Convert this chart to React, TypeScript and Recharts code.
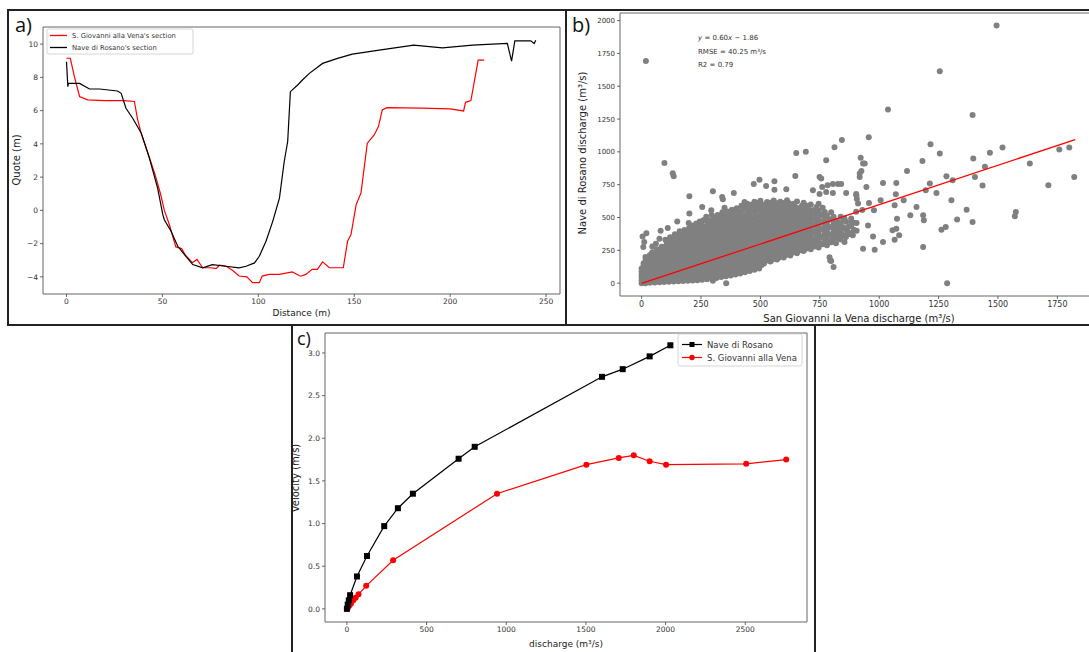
import { ComposedChart, LineChart, Line, Scatter, XAxis, YAxis, ReferenceArea } from 'recharts';

const FONT = '"DejaVu Sans", sans-serif';

// a) cross sections, [distance (m), quote (m)]
const giovanniSection: [number, number][] = [
  [0, 9.15], [2, 9.15], [4, 8.1], [6.8, 6.85], [11, 6.65], [20, 6.6], [30, 6.6], [35.4, 6.55],
  [37, 5.5], [39, 4.6], [42, 3.6], [46, 2.2], [49, 1.0], [51, 0.0], [53.6, -0.85], [57, -2.2],
  [60, -2.3], [62, -2.7], [65.6, -3.15], [68, -2.95], [71, -3.45], [75, -3.45], [78, -3.5],
  [79.7, -3.3], [83, -3.35], [86.5, -3.6], [90, -3.95], [94, -4.0], [97, -4.35], [100.5, -4.35],
  [102, -3.95], [105.7, -3.85], [111, -3.85], [117.7, -3.7], [122, -3.96], [124.8, -3.85],
  [128, -3.55], [130.8, -3.55], [133.5, -3.1], [137, -3.45], [144.3, -3.45], [146.5, -1.86],
  [148.3, -1.45], [151, 0.35], [153.5, 1.04], [156.8, 4.04], [160.4, 4.54], [162.6, 5.04],
  [164.6, 6.04], [167, 6.18], [185, 6.15], [200, 6.1], [207, 5.98], [208, 6.5], [210.8, 6.6],
  [214.6, 9.04], [217.7, 9.04],
];
const rosanoSection: [number, number][] = [
  [0, 8.94], [0.7, 7.44], [1, 7.64], [6.8, 7.64], [12, 7.3], [17.2, 7.3], [26.6, 7.18], [28.5, 7.04],
  [31, 6.14], [34.5, 5.54], [39, 4.64], [43.2, 3.14], [47.5, 1.34], [50.2, -0.26], [51, -0.56],
  [54.5, -1.26], [58, -2.16], [61.5, -2.66], [65.8, -3.26], [71, -3.46], [76, -3.26], [83, -3.36],
  [90, -3.46], [93.6, -3.36], [98, -3.16], [100.5, -2.76], [104, -1.86], [107.5, -0.66], [111, 0.74],
  [113.5, 2.94], [115.3, 4.14], [116.7, 7.14], [120.5, 7.54], [123, 7.84], [126.6, 8.24],
  [133.5, 8.84], [141.3, 9.14], [149, 9.4], [163, 9.64], [181, 9.94], [196, 9.78], [211.6, 9.94],
  [229.8, 10.04], [232, 8.98], [233.7, 10.2], [242, 10.2], [243.8, 10.04], [244.6, 10.24],
];
const sectionTicksX = [0, 50, 100, 150, 200, 250];
const sectionTicksY = [-4, -2, 0, 2, 4, 6, 8, 10];

// b) discharge pairs, San Giovanni (x) vs Nave di Rosano (y), m3/s
// the dense cloud, read column by column
const cloudColumns: [number, number[]][] = [
  [0, [0, 20, 42, 64, 88, 112]],
  [8, [10, 32, 54, 76, 100, 126, 150]],
  [16, [0, 22, 44, 66, 90, 114, 140, 168, 200]],
  [25, [12, 36, 60, 84, 110, 136, 164, 192]],
  [35, [2, 26, 50, 76, 102, 128, 156, 184, 214]],
  [45, [14, 40, 66, 92, 120, 148, 176, 206, 236]],
  [55, [4, 30, 58, 86, 114, 142, 172, 202, 232]],
  [65, [18, 46, 76, 106, 136, 166, 196, 228, 258]],
  [75, [6, 36, 66, 96, 128, 160, 192, 224]],
  [85, [22, 54, 86, 118, 150, 182, 214, 246, 278]],
  [95, [8, 40, 72, 106, 140, 174, 208, 242]],
  [105, [24, 58, 92, 126, 160, 194, 228, 262, 296]],
  [115, [10, 44, 78, 112, 148, 184, 220, 256, 290]],
  [125, [28, 64, 100, 136, 172, 208, 244, 280, 318]],
  [135, [12, 48, 84, 120, 158, 196, 234, 272, 310, 346]],
  [145, [30, 66, 104, 142, 180, 218, 256, 294, 332]],
  [155, [14, 52, 90, 128, 166, 204, 242, 280, 318, 356]],
  [165, [32, 70, 108, 146, 184, 222, 262, 302, 340]],
  [175, [16, 54, 92, 130, 170, 210, 250, 290, 330, 370]],
  [185, [34, 72, 112, 152, 192, 232, 272, 312, 352]],
  [195, [18, 58, 98, 138, 178, 218, 258, 298, 338, 380]],
  [205, [38, 78, 118, 158, 198, 238, 280, 322, 364]],
  [215, [20, 60, 100, 140, 180, 220, 262, 304, 346, 390]],
  [225, [40, 80, 120, 162, 204, 246, 288, 330, 372]],
  [235, [22, 62, 104, 146, 188, 230, 272, 314, 356, 400]],
  [245, [42, 84, 126, 168, 210, 252, 294, 338, 382]],
  [255, [26, 68, 110, 152, 194, 236, 278, 322, 366, 412]],
  [265, [46, 88, 130, 172, 214, 256, 300, 344, 388]],
  [275, [30, 72, 114, 156, 198, 240, 284, 328, 372, 418, 470]],
  [285, [52, 94, 136, 178, 220, 262, 306, 350, 394, 440]],
  [295, [34, 76, 118, 160, 204, 248, 292, 336, 380, 426]],
  [305, [56, 98, 140, 184, 228, 272, 316, 360, 404, 450]],
  [315, [40, 82, 124, 168, 212, 256, 300, 344, 390, 436]],
  [325, [62, 104, 148, 192, 236, 280, 324, 368, 414, 460]],
  [335, [46, 88, 132, 176, 220, 264, 308, 354, 400, 446]],
  [345, [68, 110, 154, 198, 242, 286, 332, 378, 424, 470]],
  [355, [52, 94, 138, 182, 226, 270, 316, 362, 408, 456]],
  [365, [74, 118, 162, 206, 250, 294, 340, 386, 432, 480]],
  [375, [58, 102, 146, 190, 234, 280, 326, 372, 418, 466]],
  [385, [82, 126, 170, 214, 258, 304, 350, 396, 444, 492]],
  [395, [66, 110, 154, 198, 244, 290, 336, 382, 430, 478]],
  [405, [90, 134, 178, 224, 270, 316, 362, 408, 456, 504]],
  [415, [74, 118, 164, 210, 256, 302, 348, 396, 444, 492]],
  [425, [98, 142, 188, 234, 280, 326, 374, 422, 470, 520]],
  [435, [82, 128, 174, 220, 266, 312, 360, 408, 456, 506]],
  [445, [106, 150, 196, 242, 290, 338, 386, 434, 484, 534]],
  [455, [92, 138, 184, 230, 278, 326, 374, 422, 472, 522]],
  [465, [116, 162, 208, 256, 304, 352, 400, 448, 498, 550]],
  [475, [102, 148, 196, 244, 292, 340, 388, 438, 488, 540]],
  [485, [126, 172, 220, 268, 316, 364, 414, 464, 514, 566]],
  [495, [112, 160, 208, 256, 304, 352, 402, 452, 502, 556]],
  [505, [138, 186, 234, 282, 330, 380, 430, 480, 532, 584]],
  [515, [150, 196, 250, 292, 348, 390, 448, 492, 550, 598]],
  [521, [174, 224, 272, 320, 370, 420, 470, 520, 566]],
  [528, [172, 226, 268, 324, 368, 426, 470, 528, 572, 618]],
  [535, [192, 240, 292, 340, 392, 442, 496, 548, 598]],
  [542, [164, 210, 262, 310, 366, 412, 462, 516, 566, 612]],
  [549, [178, 230, 276, 328, 378, 430, 478, 532, 584]],
  [556, [186, 244, 286, 342, 388, 444, 490, 548, 596, 630]],
  [563, [206, 258, 310, 360, 412, 464, 516, 566, 612]],
  [570, [180, 228, 284, 330, 380, 434, 486, 536, 590]],
  [577, [194, 242, 296, 344, 396, 448, 500, 554, 606]],
  [584, [202, 252, 304, 356, 406, 460, 510, 568, 620]],
  [591, [224, 278, 330, 380, 434, 486, 538, 590]],
  [598, [196, 246, 298, 348, 402, 450, 506, 556, 610]],
  [605, [212, 262, 316, 364, 418, 466, 522, 572]],
  [612, [220, 270, 328, 374, 432, 478, 536, 584, 632]],
  [619, [240, 296, 350, 402, 456, 508, 560, 610]],
  [626, [210, 262, 316, 366, 420, 472, 526, 578]],
  [633, [232, 288, 342, 394, 448, 500, 554, 600]],
  [640, [236, 286, 340, 390, 446, 494, 552, 604]],
  [647, [256, 310, 364, 418, 470, 522, 578]],
  [654, [228, 280, 332, 384, 438, 490, 546, 622]],
  [661, [248, 302, 354, 408, 462, 516, 570]],
  [668, [250, 302, 356, 408, 460, 514, 570]],
  [675, [272, 326, 380, 432, 486, 538, 590]],
  [682, [244, 296, 350, 402, 456, 508, 562, 612]],
  [689, [262, 318, 370, 424, 480, 534, 586]],
  [696, [266, 318, 372, 426, 480, 536, 590]],
  [704, [286, 340, 394, 450, 504, 560]],
  [712, [258, 312, 366, 420, 476, 530, 600]],
  [720, [282, 336, 392, 446, 502, 556]],
  [728, [280, 334, 390, 444, 500, 556]],
  [736, [304, 358, 414, 470, 526, 580]],
  [745, [272, 326, 382, 436, 494, 552, 604]],
  [753, [298, 354, 410, 466, 522]],
  [762, [296, 352, 408, 462, 520, 574]],
  [771, [318, 374, 430, 486, 542]],
  [780, [288, 344, 400, 458, 514]],
  [789, [316, 372, 428, 484]],
  [798, [312, 368, 426, 484, 540]],
  [808, [336, 392, 450, 506]],
  [818, [304, 362, 418, 476]],
  [828, [342, 398, 456]],
  [838, [332, 390, 448, 506]],
  [849, [366, 424, 482]],
  [860, [352, 410, 468]],
  [871, [372, 430]],
  [882, [378, 436, 492]],
  [893, [406, 460]],
  [905, [400, 458]],
];
// ragged upper fringe of the cloud
const cloudFringe: [number, number][] = [
  [100, 330], [110, 320], [120, 350], [130, 340], [140, 372], [150, 365], [160, 395], [170, 380],
  [180, 405], [190, 390], [200, 420], [198, 458], [210, 405], [215, 440], [225, 412], [230, 455],
  [240, 425], [245, 470], [255, 440], [260, 480], [270, 430], [272, 505], [280, 470], [290, 480],
  [295, 520], [300, 470], [308, 500], [315, 478], [320, 520], [330, 505], [335, 490], [340, 540],
  [348, 512], [355, 500], [360, 545], [370, 525], [375, 510], [380, 560], [390, 536], [395, 520],
  [400, 570], [410, 550], [415, 540], [420, 590], [430, 562], [440, 580], [445, 605], [450, 570],
  [460, 598], [470, 590], [475, 620], [480, 585], [490, 610], [495, 600], [500, 628],
];
// scattered points outside the cloud
const scatterOutliers: [number, number][] = [
  [18, 1692], [96, 916], [131, 838], [135, 815], [201, 662], [300, 700], [342, 640], [472, 756],
  [496, 788], [524, 740], [559, 776], [609, 716], [647, 816], [651, 992], [691, 1000], [756, 797],
  [777, 937], [812, 1036], [843, 1090], [201, 530], [293, 555], [349, 575], [388, 687], [433, 618],
  [4, 356], [11, 313], [7, 275], [20, 380], [75, 339], [80, 400], [356, 0], [300, 18], [791, 198],
  [798, 168], [808, 122], [932, 262], [918, 835], [932, 911], [749, 809], [805, 756], [826, 756],
  [840, 756], [749, 680], [777, 695], [805, 687], [861, 687], [903, 680], [906, 641], [929, 557],
  [826, 466], [854, 492], [882, 466], [903, 543], [833, 415], [868, 390], [889, 364], [854, 313],
  [805, 338], [840, 377], [794, 173], [339, 657], [255, 580], [437, 606], [559, 712], [721, 708],
  [760, 733], [783, 746], [904, 670], [911, 606], [150, 470], [110, 420], [60, 300], [45, 280],
  [1494, 1962], [1255, 1614], [1037, 1323], [1393, 1280], [956, 1112], [1216, 1059], [1255, 988],
  [1466, 993], [1396, 950], [1519, 1033], [1758, 1018], [1800, 1033], [1634, 911], [1821, 809],
  [1712, 746], [1575, 542], [1571, 509], [1445, 886], [1403, 809], [1435, 743], [1368, 560],
  [1393, 466], [1328, 484], [1304, 631], [1283, 815], [1309, 784], [1286, 0], [1280, 428],
  [1262, 407], [1241, 687], [1182, 931], [1213, 759], [1196, 708], [1185, 517], [1188, 479],
  [1185, 275], [1157, 580], [1117, 855], [1131, 517], [1103, 631], [1072, 763], [1070, 677],
  [1065, 593], [1075, 491], [1072, 415], [1084, 364], [1056, 402], [1065, 331], [1016, 763],
  [1006, 631], [1016, 313], [981, 255], [974, 356], [978, 555], [957, 611], [946, 733],
  [918, 809], [925, 855], [939, 911], [922, 955], [953, 440],
];
const fitSlope = 0.6;
const fitIntercept = -1.86;
const fitRangeX = [0, 1825];
const dischargeTicksX = [0, 250, 500, 750, 1000, 1250, 1500, 1750];
const dischargeTicksY = [0, 250, 500, 750, 1000, 1250, 1500, 1750, 2000];

// c) velocity vs discharge, [m3/s, m/s]
const rosanoRating: [number, number][] = [
  [0, 0], [5, 0.05], [12, 0.1], [20, 0.16], [63, 0.38], [126, 0.62], [234, 0.97], [320, 1.18],
  [414, 1.35], [701, 1.76], [802, 1.9], [1601, 2.72], [1731, 2.81], [1900, 2.96], [2030, 3.09],
];
const giovanniRating: [number, number][] = [
  [0, 0], [8, 0.02], [15, 0.04], [25, 0.06], [40, 0.1], [55, 0.13], [73, 0.17], [121, 0.27],
  [290, 0.57], [942, 1.35], [1503, 1.69], [1706, 1.77], [1800, 1.8], [1900, 1.73], [2003, 1.69],
  [2506, 1.7], [2757, 1.75],
];
const ratingTicksX = [0, 500, 1000, 1500, 2000, 2500];
const ratingTicksY = [0, 0.5, 1, 1.5, 2, 2.5, 3];

const toXY = (pts: [number, number][]) => pts.map(([x, y]) => ({ x, y }));
const minus = (v: number) => String(v).replace('-', '\u2212');

const tickLine = { stroke: '#444', strokeWidth: 0.8 };
const tickStyle = (size: number) => ({ fontSize: size, fill: '#333', fontFamily: FONT });

const bX: [number, number] = [-91, 1921];
const bY: [number, number] = [-98, 2058];
const bMargin = { top: 13, right: 2, bottom: 9, left: 0 };

export default function App() {
  const sectionA = toXY(giovanniSection);
  const sectionB = toXY(rosanoSection);
  const cloud = cloudColumns.flatMap(([x, ys]) => ys.map((y) => ({ x, y })));
  const scatterData = [...cloud, ...toXY(cloudFringe), ...toXY(scatterOutliers)];
  const fitLine = fitRangeX.map((x) => ({ x, y: fitSlope * x + fitIntercept }));
  const ratingA = toXY(rosanoRating);
  const ratingB = toXY(giovanniRating);

  const aX: [number, number] = [-12.25, 257.25];
  const aY: [number, number] = [-5.03, 11.03];
  const cX: [number, number] = [-137.5, 2887.5];
  const cY: [number, number] = [-0.154, 3.234];

  return (
    <div style={{ position: 'absolute', left: 0, top: 0, width: 1089, height: 652, overflow: 'hidden', background: '#fff' }}>
      {/* a) */}
      <div style={{ position: 'absolute', left: 0, top: 0 }}>
        <LineChart width={566} height={325} margin={{ top: 27, right: 6, bottom: 11, left: 0 }}>
          <XAxis type="number" dataKey="x" domain={aX} ticks={sectionTicksX} allowDataOverflow interval={0}
            axisLine={false} tickLine={tickLine} tickSize={3} tickMargin={2} height={20} tick={tickStyle(7.5)} tickFormatter={minus} />
          <YAxis type="number" domain={aY} ticks={sectionTicksY} allowDataOverflow interval={0}
            axisLine={false} tickLine={tickLine} tickSize={3} tickMargin={2} width={43} tick={tickStyle(7.5)} tickFormatter={minus} />
          <ReferenceArea x1={aX[0]} x2={aX[1]} y1={aY[0]} y2={aY[1]} fill="none" stroke="#666" strokeWidth={1} ifOverflow="visible" />
          <Line data={sectionA} dataKey="y" stroke="#ff0000" strokeWidth={1.2} dot={false} activeDot={false} isAnimationActive={false} />
          <Line data={sectionB} dataKey="y" stroke="#000" strokeWidth={1.2} dot={false} activeDot={false} isAnimationActive={false} />
        </LineChart>
      </div>

      {/* b) scatter */}
      <div style={{ position: 'absolute', left: 566, top: 0 }}>
        <ComposedChart width={534} height={325} margin={bMargin}>
          <XAxis type="number" dataKey="x" domain={bX} ticks={dischargeTicksX} allowDataOverflow interval={0}
            axisLine={false} tickLine={tickLine} tickSize={3} tickMargin={2} height={20} tick={tickStyle(8)} />
          <YAxis type="number" dataKey="y" domain={bY} ticks={dischargeTicksY} allowDataOverflow interval={0}
            axisLine={false} tickLine={tickLine} tickSize={3} tickMargin={2} width={54} tick={tickStyle(7)} />
          <ReferenceArea x1={bX[0]} x2={bX[1]} y1={bY[0]} y2={bY[1]} fill="none" stroke="#666" strokeWidth={1} ifOverflow="visible" />
          <Scatter data={scatterData} dataKey="y" fill="#808080" isAnimationActive={false}
            shape={(p: any) => <circle cx={p.cx} cy={p.cy} r={3} fill="#808080" />} />
        </ComposedChart>
      </div>
      {/* b) fit line, same axes, kept above the points */}
      <div style={{ position: 'absolute', left: 566, top: 0 }}>
        <LineChart width={534} height={325} margin={bMargin}>
          <XAxis type="number" dataKey="x" domain={bX} ticks={dischargeTicksX} allowDataOverflow
            axisLine={false} tickLine={false} tick={false} height={20} />
          <YAxis type="number" domain={bY} ticks={dischargeTicksY} allowDataOverflow
            axisLine={false} tickLine={false} tick={false} width={54} />
          <Line data={fitLine} dataKey="y" stroke="#ff0000" strokeWidth={1.3} dot={false} activeDot={false} isAnimationActive={false} />
        </LineChart>
      </div>

      {/* c) */}
      <div style={{ position: 'absolute', left: 292, top: 325 }}>
        <LineChart width={520} height={327} margin={{ top: 8, right: 5, bottom: 10, left: 0 }}>
          <XAxis type="number" dataKey="x" domain={cX} ticks={ratingTicksX} allowDataOverflow interval={0}
            axisLine={false} tickLine={tickLine} tickSize={3} tickMargin={2} height={20} tick={tickStyle(7.5)} />
          <YAxis type="number" domain={cY} ticks={ratingTicksY} allowDataOverflow interval={0}
            axisLine={false} tickLine={tickLine} tickSize={3} tickMargin={2} width={33} tick={tickStyle(7.5)}
            tickFormatter={(v: number) => v.toFixed(1)} />
          <ReferenceArea x1={cX[0]} x2={cX[1]} y1={cY[0]} y2={cY[1]} fill="none" stroke="#666" strokeWidth={1} ifOverflow="visible" />
          <Line data={ratingB} dataKey="y" stroke="#ff0000" strokeWidth={1.2} activeDot={false} isAnimationActive={false}
            dot={(p: any) => <circle key={`g${p.index}`} cx={p.cx} cy={p.cy} r={3} fill="#ff0000" />} />
          <Line data={ratingA} dataKey="y" stroke="#000" strokeWidth={1.2} activeDot={false} isAnimationActive={false}
            dot={(p: any) => <rect key={`r${p.index}`} x={p.cx - 3} y={p.cy - 3} width={6} height={6} fill="#000" />} />
        </LineChart>
      </div>

      <svg width={1089} height={652} style={{ position: 'absolute', left: 0, top: 0, pointerEvents: 'none' }} fontFamily={FONT}>
        {/* panel frames */}
        <rect x={8} y={10} width={558} height={315} fill="none" stroke="#222" strokeWidth={2} />
        <rect x={566} y={10} width={532} height={315} fill="none" stroke="#222" strokeWidth={2} />
        <rect x={292} y={325} width={523} height={335} fill="none" stroke="#222" strokeWidth={2} />

        <text x={15} y={32} fontSize={20} fontFamily='"Open Sans", sans-serif' fill="#111">a)</text>
        <text x={572} y={32} fontSize={20} fontFamily='"Open Sans", sans-serif' fill="#111">b)</text>
        <text x={297} y={345} fontSize={18} fontFamily='"Open Sans", sans-serif' fill="#111">c)</text>

        {/* a) labels and legend */}
        <text x={301.5} y={316} fontSize={9} fill="#222" textAnchor="middle">Distance (m)</text>
        <text x={20} y={160} fontSize={10} fill="#222" textAnchor="middle" transform="rotate(-90 20 160)">Quote (m)</text>
        <rect x={47} y={29} width={146} height={25} rx={2} fill="#fff" fillOpacity={0.85} stroke="#ccc" strokeWidth={0.8} />
        <line x1={50} y1={35.5} x2={67} y2={35.5} stroke="#ff0000" strokeWidth={1.3} />
        <text x={72} y={38} fontSize={6.8} fill="#333">S. Giovanni alla Vena's section</text>
        <line x1={50} y1={47.5} x2={67} y2={47.5} stroke="#000" strokeWidth={1.3} />
        <text x={72} y={50} fontSize={6.8} fill="#333">Nave di Rosano's section</text>

        {/* b) labels and fit text */}
        <text x={859} y={322} fontSize={10} fill="#222" textAnchor="middle">San Giovanni la Vena discharge (m³/s)</text>
        <text x={586} y={153} fontSize={10} fill="#222" textAnchor="middle" transform="rotate(-90 586 153)">Nave di Rosano discharge (m³/s)</text>
        <text x={698} y={40} fontSize={7} fill="#333"><tspan fontStyle="italic">y</tspan> = 0.60<tspan fontStyle="italic">x</tspan> − 1.86</text>
        <text x={698} y={53.5} fontSize={7} fill="#333">RMSE = 40.25 m³/s</text>
        <text x={698} y={67} fontSize={7} fill="#333">R2 = 0.79</text>

        {/* c) labels and legend */}
        <text x={566} y={647} fontSize={9} fill="#222" textAnchor="middle">discharge (m³/s)</text>
        <text x={299} y={478} fontSize={10} fill="#222" textAnchor="middle" transform="rotate(-90 299 478)">Velocity (m/s)</text>
        <rect x={678} y={334} width={124} height={32} rx={2} fill="#fff" fillOpacity={0.85} stroke="#ccc" strokeWidth={0.8} />
        <line x1={682} y1={344.5} x2={702} y2={344.5} stroke="#000" strokeWidth={1.2} />
        <rect x={689.5} y={342} width={5} height={5} fill="#000" />
        <text x={707} y={347.5} fontSize={8.5} fill="#333">Nave di Rosano</text>
        <line x1={682} y1={357.5} x2={702} y2={357.5} stroke="#ff0000" strokeWidth={1.2} />
        <circle cx={692} cy={357.5} r={2.7} fill="#ff0000" />
        <text x={707} y={360.5} fontSize={8.5} fill="#333">S. Giovanni alla Vena</text>
      </svg>
    </div>
  );
}
